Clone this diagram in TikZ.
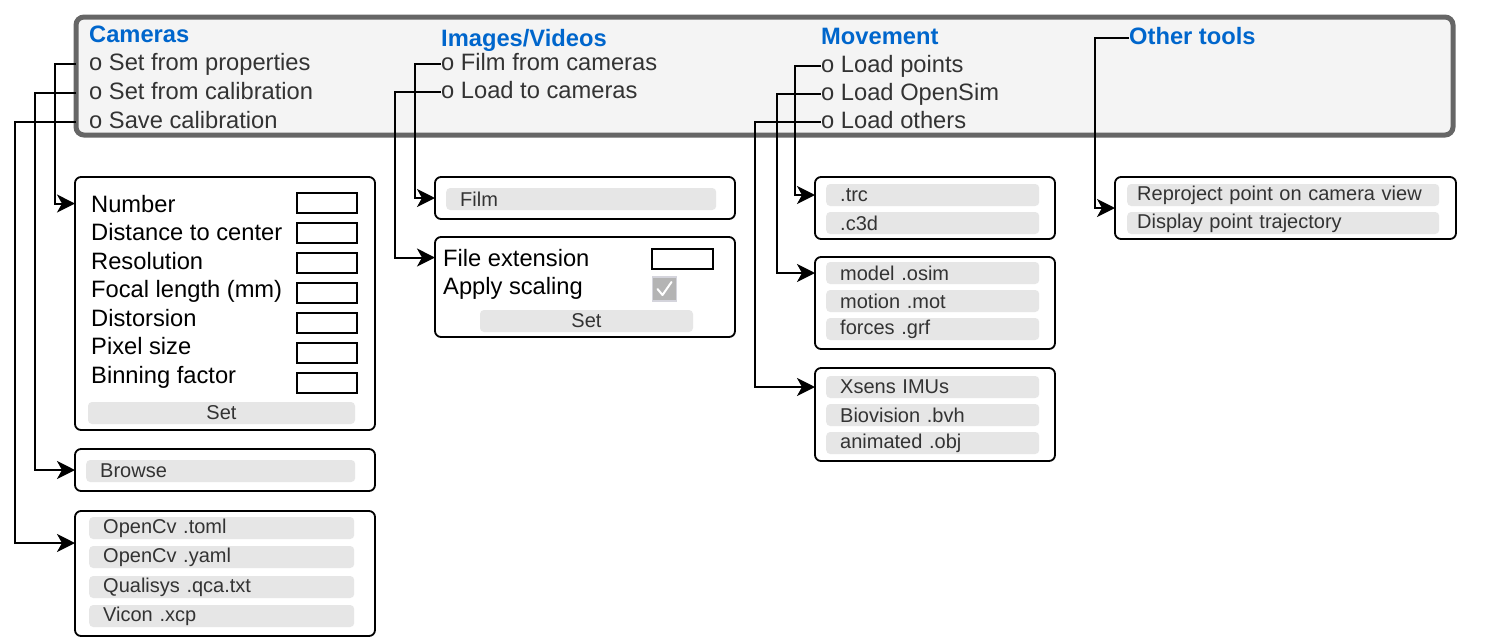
\documentclass[tikz,border=0pt]{standalone}
\usepackage{fontspec}
\setmainfont{Liberation Sans}
\usetikzlibrary{arrows.meta}
\definecolor{barfill}{HTML}{F4F4F4}
\definecolor{barline}{HTML}{666666}
\definecolor{headblue}{HTML}{0066CC}
\definecolor{gray20}{HTML}{333333}
\definecolor{btnfill}{HTML}{E6E6E6}
\definecolor{chkfill}{HTML}{B4B4B4}
\definecolor{chkline}{HTML}{D4D4DC}

\tikzset{
  bar/.style={draw=barline, fill=barfill, line width=5pt, rounded corners=8pt, anchor=north west, inner sep=0, outer sep=0},
  panel/.style={draw=black, fill=white, line width=1.8pt, rounded corners=6pt, anchor=north west, inner sep=0, outer sep=0},
  head/.style={anchor=base west, inner sep=0, text height=17pt, text depth=5pt, text=headblue, font=\fontsize{23.7}{28}\selectfont\bfseries},
  item/.style={anchor=base west, inner sep=0, text height=17pt, text depth=5pt, text=gray20, font=\fontsize{23.7}{28}\selectfont},
  lbl/.style={anchor=base west, inner sep=0, text=black, font=\fontsize{23.7}{28}\selectfont},
  field/.style={draw=black, line width=1.6pt, minimum width=60pt, minimum height=20pt, inner sep=0},
  btn/.style={fill=btnfill, rounded corners=4pt, anchor=west, minimum height=22pt, inner ysep=0, inner xsep=14pt, text width=#1, align=left, text=gray20, font=\fontsize{20}{24}\selectfont},
  setbtn/.style={fill=btnfill, rounded corners=4pt, minimum height=22pt, minimum width=#1, inner sep=0, text=gray20, font=\fontsize{20}{24}\selectfont},
  link/.style={draw=black, line width=2pt, -{Stealth[length=18pt, width=18pt, inset=5pt]}},
}

\begin{document}
\begin{tikzpicture}[x=1pt, y=-1pt]

  \useasboundingbox (0,0) rectangle (1496,638);

  % menu bar
  \node[bar, minimum width=1377pt, minimum height=118pt] (bar) at (76,17) {};

  \node[head] (cams) at (89,42) {Cameras};
  \node[item] (setprop) at (89,70) {o Set from properties};
  \node[item] (setcalib) at (89,99) {o Set from calibration};
  \node[item] (savecalib) at (89,128) {o Save calibration};

  \node[head] (imgs) at (441,46) {Images/Videos};
  \node[item] (filmcam) at (441,70) {o Film from cameras};
  \node[item] (loadcam) at (441,98) {o Load to cameras};

  \node[head] (move) at (821,44) {Movement};
  \node[item] (loadpts) at (821,72) {o Load points};
  \node[item] (loadosim) at (821,100) {o Load OpenSim};
  \node[item] (loadother) at (821,128) {o Load others};

  \node[head] (tools) at (1129,44) {Other tools};

  % camera panels
  \node[panel, minimum width=300pt, minimum height=253pt] (pcam) at (75,177) {};
  \foreach \txt [count=\i from 0] in {Number, Distance to center, Resolution, Focal length (mm), Distorsion, Pixel size, Binning factor} {
    \node[lbl] (lbl\i) at (91, {212+28.5*\i}) {\txt};
    \node[field] (fld\i) at (327, {203+30*\i}) {};
  }
  \node[setbtn=267pt] (camset) at (221.5,413) {Set};

  \node[panel, minimum width=300pt, minimum height=42pt] (pbrowse) at (75,449) {};
  \node[btn=241pt] (browse) at (86,471) {Browse};

  \node[panel, minimum width=300pt, minimum height=125pt] (pcal) at (75,511) {};
  \foreach \txt/\y [count=\i] in {OpenCv .toml/528, OpenCv .yaml/557, Qualisys .qca.txt/587, Vicon .xcp/616} {
    \node[btn=237pt] (cal\i) at (89,\y) {\txt};
  }

  % image panels
  \node[panel, minimum width=300pt, minimum height=42pt] (pfilm) at (435,177) {};
  \node[btn=242pt] (film) at (446,199) {Film};

  \node[panel, minimum width=300pt, minimum height=100pt] (pext) at (435,237) {};
  \node[lbl] (fileext) at (443,266) {File extension};
  \node[field, minimum width=61pt] (extfld) at (682.5,259) {};
  \node[lbl] (scaling) at (443,294) {Apply scaling};
  \node[fill=chkfill, draw=chkline, line width=1.5pt, minimum size=24pt, inner sep=0] (chk) at (664.5,289) {};
  \draw[white, line width=2pt, line cap=round, line join=round] ([shift={(-7,0)}]chk.center) -- ([shift={(-2,6)}]chk.center) -- ([shift={(7,-7)}]chk.center);
  \node[setbtn=213pt] (extset) at (586.5,321) {Set};

  % movement panels
  \node[panel, minimum width=240pt, minimum height=62pt] (ptrc) at (815,177) {};
  \node[btn=185pt] (trc) at (826,195) {.trc};
  \node[btn=185pt] (c3d) at (826,223) {.c3d};

  \node[panel, minimum width=240pt, minimum height=92pt] (posim) at (815,257) {};
  \node[btn=185pt] (osim) at (826,273) {model .osim};
  \node[btn=185pt] (mot) at (826,301) {motion .mot};
  \node[btn=185pt] (grf) at (826,329) {forces .grf};

  \node[panel, minimum width=240pt, minimum height=93pt] (pother) at (815,368) {};
  \node[btn=185pt] (xsens) at (826,387) {Xsens IMUs};
  \node[btn=185pt] (bvh) at (826,415) {Biovision .bvh};
  \node[btn=185pt] (obj) at (826,443) {animated .obj};

  % other tools panel
  \node[panel, minimum width=341pt, minimum height=62pt] (ptools) at (1115,177) {};
  \node[btn=292pt, inner xsep=10pt] (reproj) at (1127,195) {Reproject point on camera view};
  \node[btn=292pt, inner xsep=10pt] (traj) at (1127,223) {Display point trajectory};

  % links
  \draw[link] (setprop.west -| bar.west) -- ++(-21,0) |- (pcam.west |- lbl0);
  \draw[link] (setcalib.west -| bar.west) -- ++(-41,0) |- (pbrowse.west);
  \draw[link] (savecalib.west -| bar.west) -- ++(-61,0) |- ([yshift=-32pt]pcal.north west);

  \draw[link] (filmcam.west) -- ++(-26,0) |- (pfilm.west);
  \draw[link] (loadcam.west) -- ++(-46,0) |- (pext.west |- fileext);

  \draw[link] (loadpts.west) -- ++(-26,0) |- (ptrc.west |- trc);
  \draw[link] (loadosim.west) -- ++(-44,0) |- (posim.west |- osim);
  \draw[link] (loadother.west) -- ++(-66,0) |- (pother.west |- xsens);

  \draw[link] (tools.west) -- ++(-34,0) |- (ptools.west);

\end{tikzpicture}
\end{document}
